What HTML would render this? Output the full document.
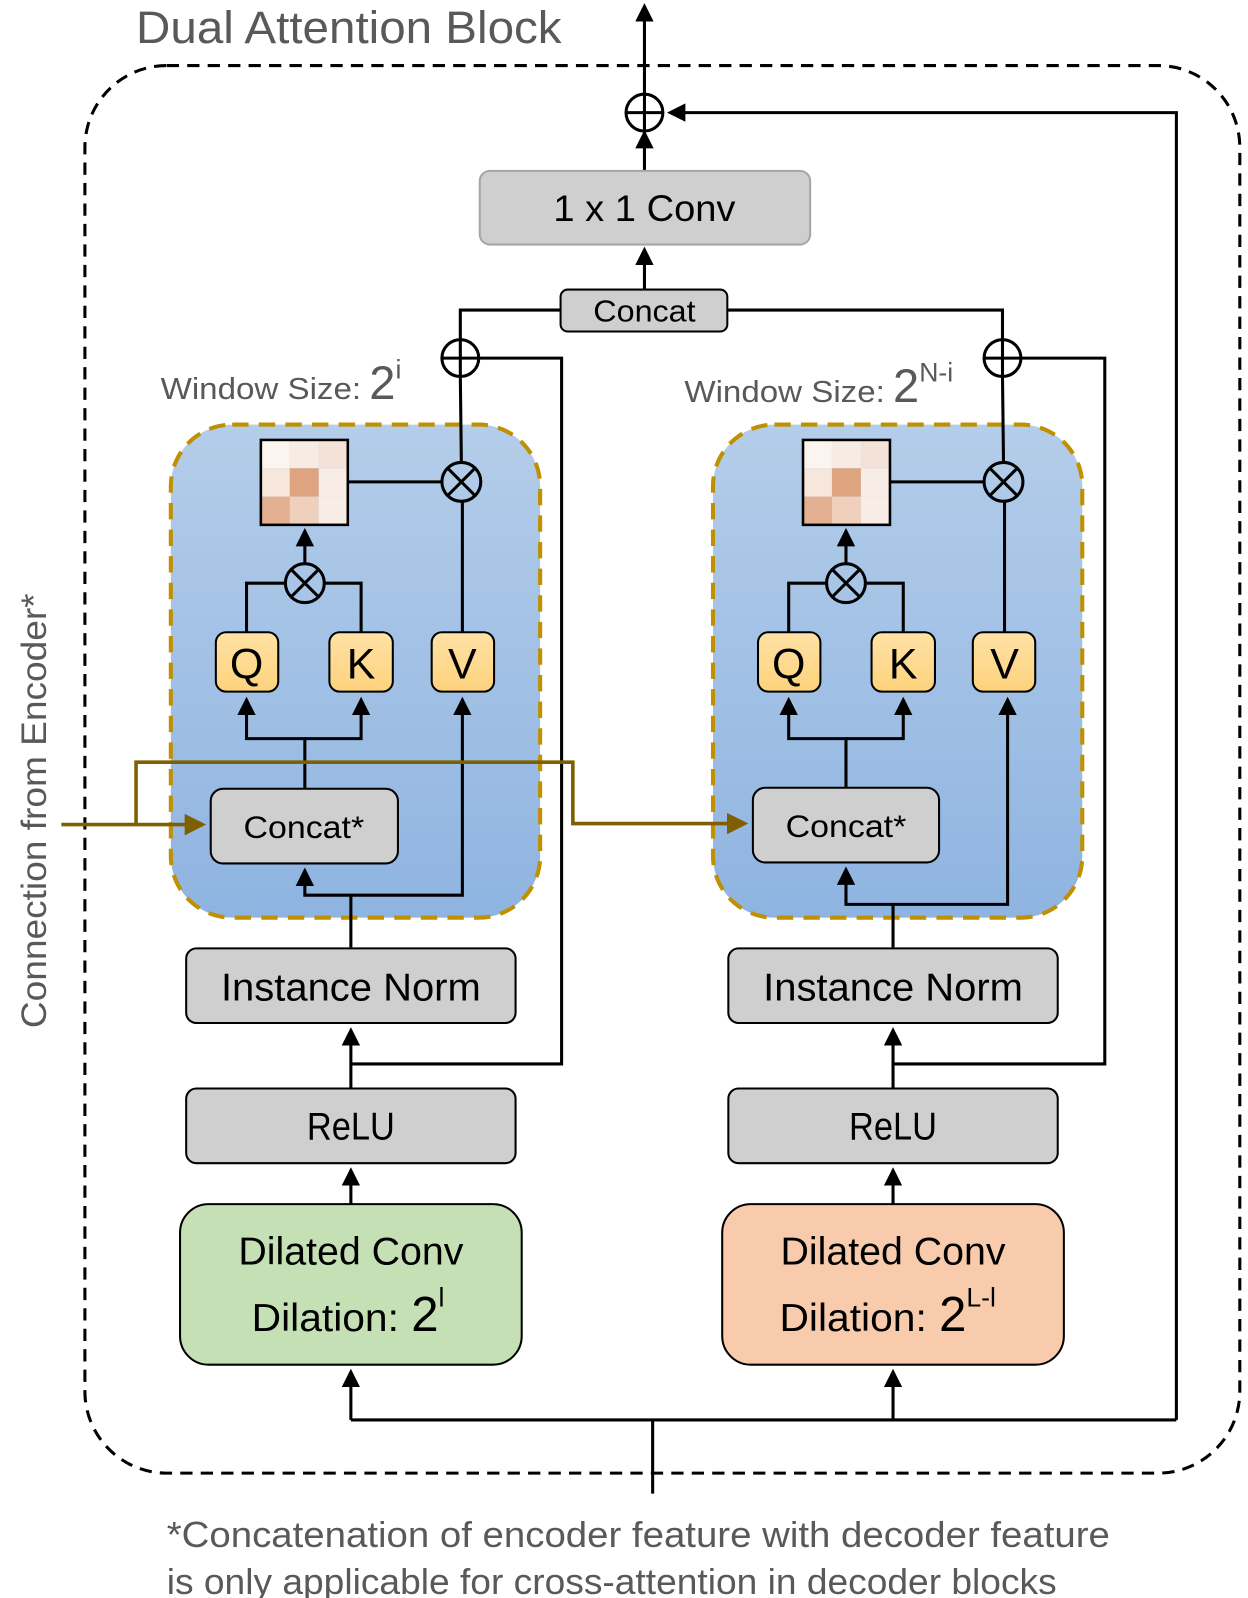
<!DOCTYPE html>
<html><head><meta charset="utf-8"><style>html,body{margin:0;padding:0;background:#fff}svg{display:block}</style></head>
<body>
<svg width="1248" height="1598" viewBox="0 0 1220 1562" xmlns="http://www.w3.org/2000/svg" font-family="Liberation Sans, sans-serif">
<defs>
<linearGradient id="blue" x1="0" y1="0" x2="0" y2="1"><stop offset="0" stop-color="#b4cde9"/><stop offset="1" stop-color="#8fb4e1"/></linearGradient>
<linearGradient id="yel" x1="0" y1="0" x2="0" y2="1"><stop offset="0" stop-color="#ffe2a6"/><stop offset="1" stop-color="#fdd27c"/></linearGradient>
<marker id="ar" markerWidth="6" markerHeight="6" refX="5" refY="3" orient="auto" markerUnits="strokeWidth"><path d="M0,0 L6,3 L0,6 z" fill="#000"/></marker>
<marker id="arb" markerWidth="6" markerHeight="6" refX="5" refY="3" orient="auto" markerUnits="strokeWidth"><path d="M0,0 L6,3 L0,6 z" fill="#7f6000"/></marker>
<g id="plus"><circle r="18" fill="none" stroke="#000" stroke-width="3"/><path d="M-18,0H18M0,-18V18" stroke="#000" stroke-width="3"/></g>
<g id="times"><circle r="19" fill="none" stroke="#000" stroke-width="3"/><path d="M-13,-13L13,13M-13,13L13,-13" stroke="#000" stroke-width="3"/></g>
</defs>

<text x="133" y="42" font-size="44" fill="#595959" textLength="416" lengthAdjust="spacingAndGlyphs">Dual Attention Block</text>
<rect x="83" y="64" width="1129" height="1376" rx="80" fill="none" stroke="#000" stroke-width="3" stroke-dasharray="12 8"/>

<line x1="630" y1="92" x2="630" y2="6" stroke="#000" stroke-width="3" marker-end="url(#ar)"/>
<use href="#plus" x="630" y="110"/>
<line x1="630" y1="167" x2="630" y2="130" stroke="#000" stroke-width="3" marker-end="url(#ar)"/>
<polyline points="1150,1388 1150,110 655,110" fill="none" stroke="#000" stroke-width="3" marker-end="url(#ar)"/>
<polyline points="343,1388 1150,1388" fill="none" stroke="#000" stroke-width="3"/>
<line x1="638" y1="1388" x2="638" y2="1460" stroke="#000" stroke-width="3"/>

<rect x="469" y="167" width="323" height="72" rx="10" fill="#d0cfd0" stroke="#a6a6a6" stroke-width="2"/>
<text x="630" y="216" font-size="36" text-anchor="middle" textLength="178" lengthAdjust="spacingAndGlyphs">1 x 1 Conv</text>
<line x1="630" y1="283" x2="630" y2="244" stroke="#000" stroke-width="3" marker-end="url(#ar)"/>
<polyline points="548,303 450,303 450,332" fill="none" stroke="#000" stroke-width="3"/>
<polyline points="711,303 980,303 980,332" fill="none" stroke="#000" stroke-width="3"/>
<rect x="548" y="283" width="163" height="41" rx="7" fill="#d0cfd0" stroke="#000" stroke-width="2"/>
<text x="630" y="314" font-size="30" text-anchor="middle" textLength="100" lengthAdjust="spacingAndGlyphs">Concat</text>

<g>
<rect x="167" y="415" width="361" height="482" rx="60" fill="url(#blue)" stroke="#bf9000" stroke-width="4" stroke-dasharray="16 10"/>
<g stroke="#000" stroke-width="3" fill="none">
<polyline points="343,1040 549,1040 549,350 468,350"/>
<line x1="450" y1="368" x2="451" y2="452"/>
<line x1="340" y1="471" x2="432" y2="471"/>
<line x1="452" y1="490" x2="452" y2="618"/>
<polyline points="241,618 241,570 279,570"/>
<polyline points="353,618 353,570 317,570"/>
<line x1="298" y1="551" x2="298" y2="519" marker-end="url(#ar)"/>
<polyline points="298,771 298,722 241,722 241,684" marker-end="url(#ar)"/>
<polyline points="298,722 353,722 353,684" marker-end="url(#ar)"/>
<polyline points="343,926 343,875 298,875 298,851" marker-end="url(#ar)"/>
<polyline points="343,875 452,875 452,684" marker-end="url(#ar)"/>
<line x1="343" y1="1064" x2="343" y2="1007" marker-end="url(#ar)"/>
<line x1="343" y1="1177" x2="343" y2="1144" marker-end="url(#ar)"/>
<line x1="343" y1="1388" x2="343" y2="1341" marker-end="url(#ar)"/>
</g>
<use href="#plus" x="450" y="350"/>
<use href="#times" x="451" y="471"/>
<use href="#times" x="298" y="570"/>
<g>
<rect x="255" y="430" width="28.3" height="27.7" fill="#fbf4ef"/><rect x="283.3" y="430" width="28.3" height="27.7" fill="#f8ebe3"/><rect x="311.6" y="430" width="28.4" height="27.7" fill="#f4e2d8"/>
<rect x="255" y="457.7" width="28.3" height="27.7" fill="#f6e6dc"/><rect x="283.3" y="457.7" width="28.3" height="27.7" fill="#dea37f"/><rect x="311.6" y="457.7" width="28.4" height="27.7" fill="#f7ece6"/>
<rect x="255" y="485.4" width="28.3" height="27.6" fill="#e3b091"/><rect x="283.3" y="485.4" width="28.3" height="27.6" fill="#eed0bd"/><rect x="311.6" y="485.4" width="28.4" height="27.6" fill="#f7ece6"/>
<rect x="255" y="430" width="85" height="83" fill="none" stroke="#000" stroke-width="2.5"/>
</g>
<rect x="211" y="618" width="61" height="58" rx="10" fill="url(#yel)" stroke="#000" stroke-width="2"/>
<rect x="322" y="618" width="62" height="58" rx="10" fill="url(#yel)" stroke="#000" stroke-width="2"/>
<rect x="422" y="618" width="61" height="58" rx="10" fill="url(#yel)" stroke="#000" stroke-width="2"/>
<text x="241" y="663" font-size="42" text-anchor="middle">Q</text>
<text x="353" y="663" font-size="42" text-anchor="middle">K</text>
<text x="452" y="663" font-size="42" text-anchor="middle">V</text>
<rect x="206" y="771" width="183" height="73" rx="12" fill="#d0cfd0" stroke="#000" stroke-width="2"/>
<text x="297" y="819" font-size="31" text-anchor="middle" textLength="118" lengthAdjust="spacingAndGlyphs">Concat*</text>
<rect x="182" y="927" width="322" height="73" rx="10" fill="#d0cfd0" stroke="#000" stroke-width="2"/>
<text x="343" y="978" font-size="38" text-anchor="middle" textLength="254" lengthAdjust="spacingAndGlyphs">Instance Norm</text>
<rect x="182" y="1064" width="322" height="73" rx="10" fill="#d0cfd0" stroke="#000" stroke-width="2"/>
<text x="343" y="1114" font-size="38" text-anchor="middle" textLength="86" lengthAdjust="spacingAndGlyphs">ReLU</text>
</g>
<rect x="176" y="1177" width="334" height="157" rx="28" fill="#c5e0b4" stroke="#000" stroke-width="2"/>
<text x="343" y="1236" font-size="38" text-anchor="middle" textLength="220" lengthAdjust="spacingAndGlyphs">Dilated Conv</text>
<text x="246" y="1301" font-size="38"><tspan textLength="144" lengthAdjust="spacingAndGlyphs">Dilation:</tspan><tspan dx="12" font-size="48">2</tspan><tspan font-size="26" dy="-24">l</tspan></text>
<text x="157" y="390" font-size="30" fill="#595959"><tspan textLength="196" lengthAdjust="spacingAndGlyphs">Window Size:</tspan><tspan dx="8" font-size="46">2</tspan><tspan font-size="26" dy="-20">i</tspan></text>

<g transform="translate(530,0)">
<rect x="167" y="415" width="361" height="482" rx="60" fill="url(#blue)" stroke="#bf9000" stroke-width="4" stroke-dasharray="16 10"/>
<g stroke="#000" stroke-width="3" fill="none">
<polyline points="343,1040 550,1040 550,350 468,350"/>
<line x1="450" y1="368" x2="451" y2="452"/>
<line x1="340" y1="471" x2="432" y2="471"/>
<line x1="452" y1="490" x2="452" y2="618"/>
<polyline points="241,618 241,570 279,570"/>
<polyline points="353,618 353,570 317,570"/>
<line x1="297" y1="551" x2="297" y2="519" marker-end="url(#ar)"/>
<polyline points="297,771 297,722 241,722 241,684" marker-end="url(#ar)"/>
<polyline points="297,722 353,722 353,684" marker-end="url(#ar)"/>
<polyline points="343,926 343,884 297,884 297,850" marker-end="url(#ar)"/>
<polyline points="343,884 455,884 455,684" marker-end="url(#ar)"/>
<line x1="343" y1="1064" x2="343" y2="1007" marker-end="url(#ar)"/>
<line x1="343" y1="1177" x2="343" y2="1144" marker-end="url(#ar)"/>
<line x1="343" y1="1388" x2="343" y2="1341" marker-end="url(#ar)"/>
</g>
<use href="#plus" x="450" y="350"/>
<use href="#times" x="451" y="471"/>
<use href="#times" x="297" y="570"/>
<g>
<rect x="255" y="430" width="28.3" height="27.7" fill="#fbf4ef"/><rect x="283.3" y="430" width="28.3" height="27.7" fill="#f8ebe3"/><rect x="311.6" y="430" width="28.4" height="27.7" fill="#f4e2d8"/>
<rect x="255" y="457.7" width="28.3" height="27.7" fill="#f6e6dc"/><rect x="283.3" y="457.7" width="28.3" height="27.7" fill="#dea37f"/><rect x="311.6" y="457.7" width="28.4" height="27.7" fill="#f7ece6"/>
<rect x="255" y="485.4" width="28.3" height="27.6" fill="#e3b091"/><rect x="283.3" y="485.4" width="28.3" height="27.6" fill="#eed0bd"/><rect x="311.6" y="485.4" width="28.4" height="27.6" fill="#f7ece6"/>
<rect x="255" y="430" width="85" height="83" fill="none" stroke="#000" stroke-width="2.5"/>
</g>
<rect x="211" y="618" width="61" height="58" rx="10" fill="url(#yel)" stroke="#000" stroke-width="2"/>
<rect x="322" y="618" width="62" height="58" rx="10" fill="url(#yel)" stroke="#000" stroke-width="2"/>
<rect x="421" y="618" width="61" height="58" rx="10" fill="url(#yel)" stroke="#000" stroke-width="2"/>
<text x="241" y="663" font-size="42" text-anchor="middle">Q</text>
<text x="353" y="663" font-size="42" text-anchor="middle">K</text>
<text x="452" y="663" font-size="42" text-anchor="middle">V</text>
<rect x="206" y="770" width="182" height="73" rx="12" fill="#d0cfd0" stroke="#000" stroke-width="2"/>
<text x="297" y="818" font-size="31" text-anchor="middle" textLength="118" lengthAdjust="spacingAndGlyphs">Concat*</text>
<rect x="182" y="927" width="322" height="73" rx="10" fill="#d0cfd0" stroke="#000" stroke-width="2"/>
<text x="343" y="978" font-size="38" text-anchor="middle" textLength="254" lengthAdjust="spacingAndGlyphs">Instance Norm</text>
<rect x="182" y="1064" width="322" height="73" rx="10" fill="#d0cfd0" stroke="#000" stroke-width="2"/>
<text x="343" y="1114" font-size="38" text-anchor="middle" textLength="86" lengthAdjust="spacingAndGlyphs">ReLU</text>
</g>
<rect x="706" y="1177" width="334" height="157" rx="28" fill="#f8cbad" stroke="#000" stroke-width="2"/>
<text x="873" y="1236" font-size="38" text-anchor="middle" textLength="220" lengthAdjust="spacingAndGlyphs">Dilated Conv</text>
<text x="762" y="1301" font-size="38"><tspan textLength="144" lengthAdjust="spacingAndGlyphs">Dilation:</tspan><tspan dx="12" font-size="48">2</tspan><tspan font-size="26" dy="-24">L-l</tspan></text>
<text x="669" y="393" font-size="30" fill="#595959"><tspan textLength="196" lengthAdjust="spacingAndGlyphs">Window Size:</tspan><tspan dx="8" font-size="46">2</tspan><tspan font-size="26" dy="-20">N-i</tspan></text>

<g stroke="#7f6000" stroke-width="3.5" fill="none">
<line x1="60" y1="806" x2="198" y2="806" marker-end="url(#arb)"/>
<polyline points="133,806 133,745 560,745 560,805 728,805" marker-end="url(#arb)"/>
</g>
<text transform="translate(45,1005) rotate(-90)" font-size="34" fill="#595959" textLength="425" lengthAdjust="spacingAndGlyphs">Connection from Encoder*</text>

<text x="163" y="1512" font-size="35" fill="#595959" textLength="922" lengthAdjust="spacingAndGlyphs">*Concatenation of encoder feature with decoder feature</text>
<text x="163" y="1558" font-size="35" fill="#595959" textLength="870" lengthAdjust="spacingAndGlyphs">is only applicable for cross-attention in decoder blocks</text>
</svg>
</body></html>
